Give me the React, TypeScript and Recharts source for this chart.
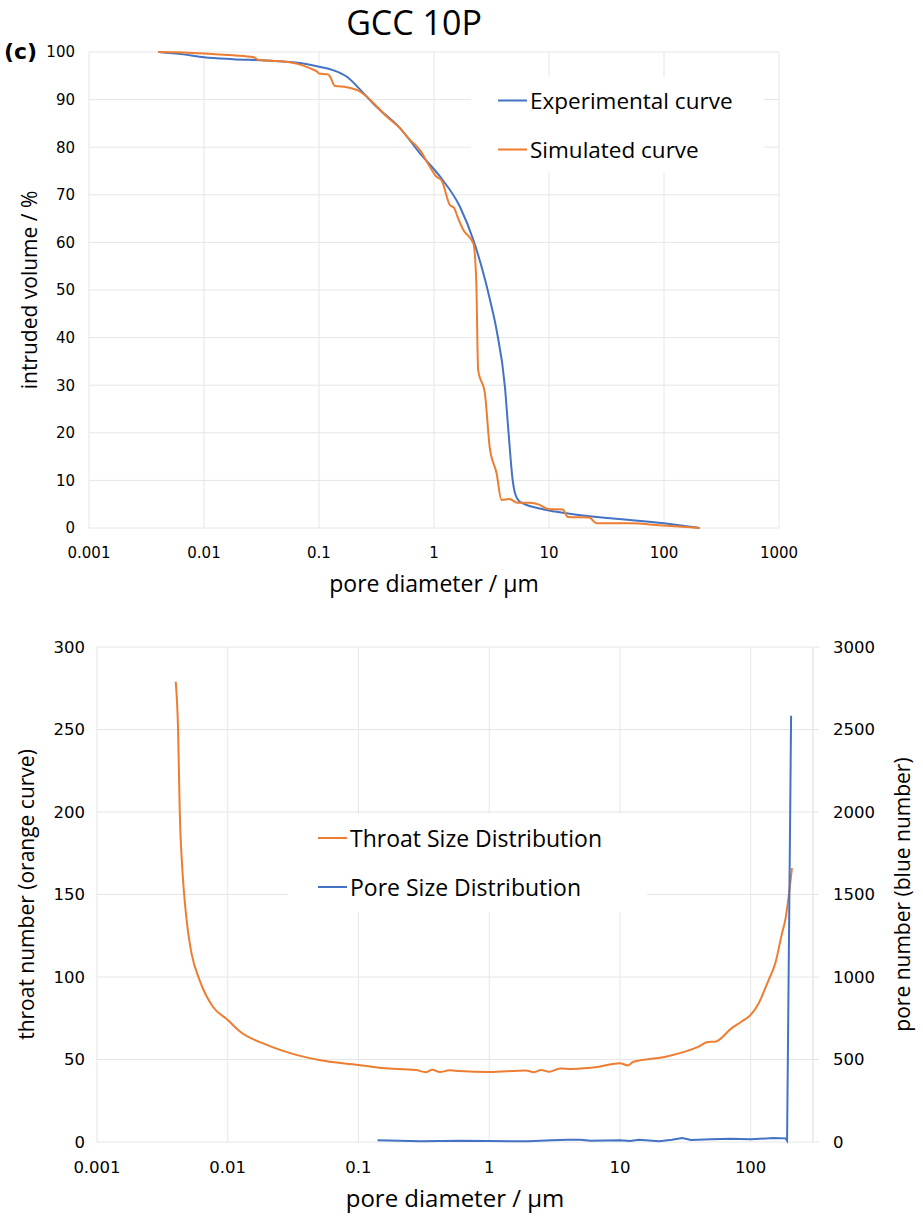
import React from "react"
import { CartesianGrid, Legend, Line, LineChart, XAxis, YAxis } from "recharts"

// top panel: mercury intrusion, experimental vs simulated
const expX = [0.004, 0.0066, 0.01, 0.0178, 0.035, 0.068, 0.1, 0.132, 0.175, 0.23, 0.316, 0.506, 0.755, 1.13, 1.68, 2.2, 2.77, 3.07, 3.5, 4.14, 4.43, 4.83, 5.05, 5.6, 9.5, 14.2, 100, 205]
const expY = [100, 99.5, 98.9, 98.5, 98.2, 97.7, 96.9, 96.2, 94.8, 92, 88.5, 84, 78.7, 73.8, 67.5, 60.5, 52.3, 47.9, 41.6, 29.6, 20.6, 10.1, 7.4, 5.5, 3.8, 3.1, 1.0, 0]

const simX = [0.004, 0.0066, 0.01, 0.0178, 0.027, 0.03, 0.049, 0.065, 0.083, 0.096, 0.1, 0.12, 0.125, 0.137, 0.175, 0.23, 0.26, 0.39, 0.506, 0.62, 0.755, 0.92, 1.05, 1.16, 1.37, 1.5, 1.6, 1.8, 2.2, 2.33, 2.42, 2.77, 3.05, 3.5, 3.86, 4.54, 5.3, 6.8, 8.2, 9.8, 13.2, 14.6, 22.4, 25.8, 50, 100, 205]
const simY = [100, 99.9, 99.7, 99.3, 98.9, 98.3, 98.0, 97.5, 96.6, 95.9, 95.5, 95.3, 94.8, 92.9, 92.6, 91.6, 90.6, 86.4, 84, 81.5, 79.4, 75.9, 73.8, 73.1, 67.9, 67.2, 65.4, 62.6, 59.8, 52, 33.2, 28.3, 17, 11.5, 5.9, 6.1, 5.3, 5.3, 4.9, 4.0, 3.9, 2.3, 2.2, 1.0, 1.0, 0.5, 0]

// bottom panel: throat / pore size distributions
const throatX = [0.004, 0.00417, 0.0043, 0.0045, 0.0047, 0.00495, 0.00528, 0.0061, 0.0077, 0.01, 0.0124, 0.0197, 0.0297, 0.05, 0.1, 0.152, 0.275, 0.33, 0.367, 0.42, 0.5, 0.59, 1, 1.9, 2.2, 2.5, 2.87, 3.5, 4.3, 6.9, 10, 11.5, 12.7, 22.4, 40, 47, 53.6, 71.6, 85, 100, 115, 137, 154, 174, 184, 207]
const throatY = [279, 250, 199, 165, 145, 128.5, 114.5, 98, 82, 74, 67, 59, 54, 49.7, 46.7, 44.8, 43.6, 42.3, 43.8, 42.4, 43.5, 43, 42.4, 43.4, 42.3, 43.6, 42.6, 44.6, 44.3, 45.6, 47.8, 46.4, 48.6, 51.7, 57.8, 60.6, 60.8, 69, 72.9, 77, 84, 98, 108, 126.6, 134.5, 166]

const poreX = [0.14, 0.3, 0.6, 1, 2, 3, 4, 5, 6, 10, 12, 14, 20, 25, 30, 35, 50, 70, 100, 150, 185, 190, 204]
const poreY = [10, 5, 8, 6, 4, 10, 14, 14, 8, 10, 6, 14, 4, 14, 24, 12, 16, 20, 16, 24, 22, 8, 2583]

const xTicks = [0.001, 0.01, 0.1, 1, 10, 100, 1000]
const xTicksBottom = [0.001, 0.01, 0.1, 1, 10, 100]
const volTicks = [0, 10, 20, 30, 40, 50, 60, 70, 80, 90, 100]
const throatTicks = [0, 50, 100, 150, 200, 250, 300]
const poreTicks = [0, 500, 1000, 1500, 2000, 2500, 3000]

const topNames = ["Experimental curve", "Simulated curve"]
const bottomNames = ["Throat Size Distribution", "Pore Size Distribution"]

const zip = (xs: number[], ys: number[]) => xs.map((x, i) => ({ x, y: ys[i] }))

const BLUE = "#4472c4"
const ORANGE = "#ed7d31"
const GRID = "#e6e6e6"
const TICK_FONT = "DejaVu Sans"
const TEXT_FONT = "'Open Sans'"

const makeLegend = (order: string[], lineX: number, firstY: number, gap: number, fontSize: number) => (props: any) => {
  const items = [...(props.payload || [])].sort((a: any, b: any) => order.indexOf(a.value) - order.indexOf(b.value))
  return (
    <div style={{ position: "relative", width: "100%", height: "100%" }}>
      {items.map((p: any, i: number) => (
        <div
          key={p.value}
          style={{
            position: "absolute",
            left: lineX,
            top: firstY + i * gap,
            transform: "translateY(-50%)",
            display: "flex",
            alignItems: "center",
            whiteSpace: "nowrap",
          }}
        >
          <span style={{ display: "inline-block", width: 29, height: 2, background: p.color }} />
          <span style={{ marginLeft: 3, fontFamily: TEXT_FONT, fontSize, color: "#000" }}>{p.value}</span>
        </div>
      ))}
    </div>
  )
}

export default function App() {
  const exp = zip(expX, expY)
  const sim = zip(simX, simY)
  const throat = zip(throatX, throatY)
  const pore = zip(poreX, poreY)

  return (
    <div style={{ position: "absolute", left: 0, top: 0, width: 923, height: 1217, background: "#fff" }}>
      <div style={{ position: "absolute", left: 4, top: 39, fontFamily: TICK_FONT, fontWeight: "bold", fontSize: 22 }}>(c)</div>
      <div
        style={{ position: "absolute", left: 314, width: 200, top: 0, textAlign: "center", fontFamily: TEXT_FONT, fontSize: 34, lineHeight: "44px" }}
      >
        GCC 10P
      </div>

      <div style={{ position: "absolute", left: 0, top: 0 }}>
        <LineChart width={923} height={600} margin={{ top: 52, right: 144, bottom: 8, left: 0 }}>
          <CartesianGrid stroke={GRID} />
          <XAxis
            dataKey="x"
            type="number"
            scale="log"
            domain={[0.001, 1000]}
            allowDataOverflow
            ticks={xTicks}
            tickFormatter={(v) => String(v)}
            axisLine={false}
            tickLine={false}
            tickSize={0}
            tickMargin={19}
            height={64}
            tick={{ fill: "#000", fontSize: 15, fontFamily: TICK_FONT }}
            label={{ value: "pore diameter / µm", position: "insideBottom", offset: 0, fill: "#000", fontSize: 23, fontFamily: TEXT_FONT }}
          />
          <YAxis
            type="number"
            domain={[0, 100]}
            ticks={volTicks}
            axisLine={false}
            tickLine={false}
            tickSize={0}
            tickMargin={14}
            width={89}
            tick={{ fill: "#000", fontSize: 15, fontFamily: TICK_FONT }}
            label={{
              value: "intruded volume / %",
              angle: -90,
              position: "insideLeft",
              offset: 30,
              fill: "#000",
              fontSize: 21,
              fontFamily: TEXT_FONT,
              style: { textAnchor: "middle" },
            }}
          />
          <Legend
            layout="vertical"
            align="center"
            verticalAlign="middle"
            wrapperStyle={{ left: 471, top: 77, width: 293, height: 96, background: "#fff" }}
            content={makeLegend(topNames, 27, 23, 49, 22.5)}
          />
          <Line data={exp} dataKey="y" name={topNames[0]} type="monotone" stroke={BLUE} strokeWidth={2} dot={false} isAnimationActive={false} />
          <Line data={sim} dataKey="y" name={topNames[1]} type="monotone" stroke={ORANGE} strokeWidth={2} dot={false} isAnimationActive={false} />
        </LineChart>
      </div>

      <div style={{ position: "absolute", left: 0, top: 600 }}>
        <LineChart width={923} height={617} margin={{ top: 47, right: 10, bottom: 10, left: 0 }}>
          <CartesianGrid stroke={GRID} yAxisId="left" />
          <XAxis
            dataKey="x"
            type="number"
            scale="log"
            domain={[0.001, 300]}
            allowDataOverflow
            ticks={xTicksBottom}
            tickFormatter={(v) => String(v)}
            axisLine={false}
            tickLine={false}
            tickSize={0}
            tickMargin={19}
            height={65}
            tick={{ fill: "#000", fontSize: 16.5, fontFamily: TICK_FONT }}
            label={{ value: "pore diameter / µm", position: "insideBottom", offset: 0, fill: "#000", fontSize: 24, fontFamily: TEXT_FONT }}
          />
          <YAxis
            yAxisId="left"
            type="number"
            domain={[0, 300]}
            ticks={throatTicks}
            axisLine={false}
            tickLine={false}
            tickSize={0}
            tickMargin={12}
            width={97}
            tick={{ fill: "#000", fontSize: 16.5, fontFamily: TICK_FONT }}
            label={{
              value: "throat number (orange curve)",
              angle: -90,
              position: "insideLeft",
              offset: 27,
              fill: "#000",
              fontSize: 21,
              fontFamily: TEXT_FONT,
              style: { textAnchor: "middle" },
            }}
          />
          <YAxis
            yAxisId="right"
            orientation="right"
            type="number"
            domain={[0, 3000]}
            ticks={poreTicks}
            axisLine={{ stroke: GRID }}
            tickLine={{ stroke: GRID }}
            tickSize={6}
            tickMargin={14}
            width={100}
            tick={{ fill: "#000", fontSize: 16.5, fontFamily: TICK_FONT, textAnchor: "start" }}
            label={{
              value: "pore number (blue number)",
              angle: -90,
              position: "insideRight",
              offset: 10,
              fill: "#000",
              fontSize: 21,
              fontFamily: TEXT_FONT,
              style: { textAnchor: "middle" },
            }}
          />
          <Legend
            layout="vertical"
            align="center"
            verticalAlign="middle"
            wrapperStyle={{ left: 288, top: 214, width: 359, height: 98, background: "#fff" }}
            content={makeLegend(bottomNames, 30, 24, 49, 23)}
          />
          <Line yAxisId="left" data={throat} dataKey="y" name={bottomNames[0]} type="monotone" stroke={ORANGE} strokeWidth={2} dot={false} isAnimationActive={false} />
          <Line yAxisId="right" data={pore} dataKey="y" name={bottomNames[1]} type="linear" stroke={BLUE} strokeWidth={2} dot={false} isAnimationActive={false} />
        </LineChart>
      </div>
    </div>
  )
}
